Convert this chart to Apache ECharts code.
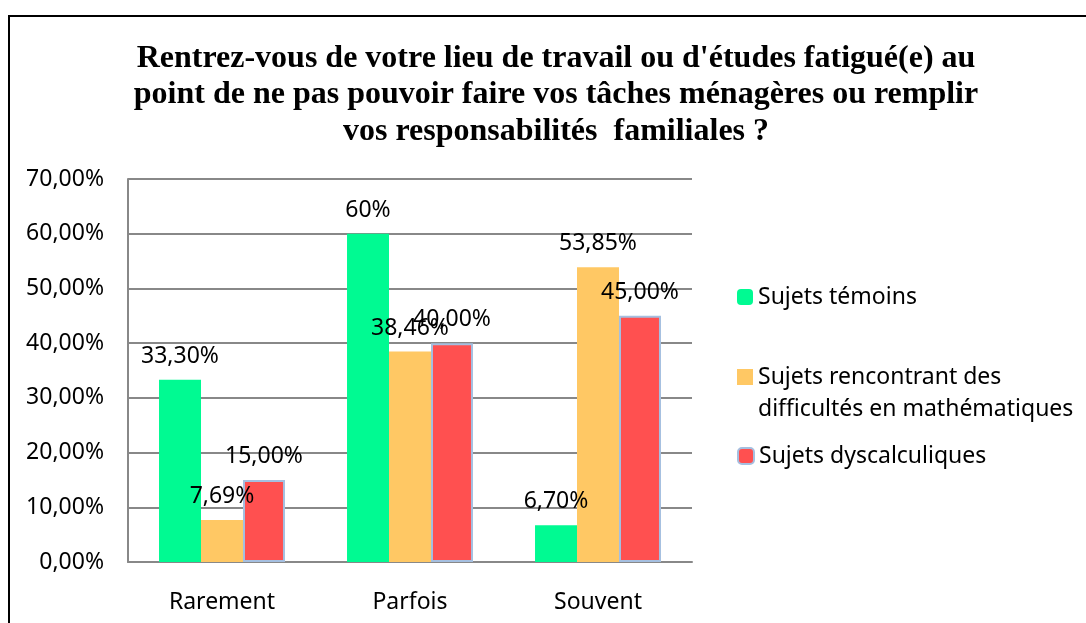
<!DOCTYPE html>
<html>
<head>
<meta charset="utf-8">
<script src="https://cdn.jsdelivr.net/npm/echarts@6/dist/echarts.min.js"></script>
<style>
  html, body { margin: 0; padding: 0; background: #fff; overflow: hidden; }
  #chart { width: 1086px; height: 623px; }
</style>
</head>
<body>
<div id="chart"></div>
<script>
// data
const categories = ['Rarement', 'Parfois', 'Souvent']
const seriesNames = [
  'Sujets témoins',
  'Sujets rencontrant des\ndifficultés en mathématiques',
  'Sujets dyscalculiques'
]
const temoins = [33.3, 60, 6.7]
const difficultes = [7.69, 38.46, 53.85]
const dyscalculiques = [15, 40, 45]
const temoinsLabels = ['33,30%', '60%', '6,70%']
const difficultesLabels = ['7,69%', '38,46%', '53,85%']
const dyscalculiquesLabels = ['15,00%', '40,00%', '45,00%']
const yTicks = ['0,00%', '10,00%', '20,00%', '30,00%', '40,00%', '50,00%', '60,00%', '70,00%']

const chart = echarts.init(document.getElementById('chart'))

const labelFont = 'Noto Sans'
const gridColor = '#888888'

function barSeries(name, values, labels, color, border) {
  return {
    name: name,
    type: 'bar',
    data: values,
    barGap: '0%',
    barCategoryGap: '33%',
    itemStyle: border
      ? { color: color, borderColor: '#a5bfe0', borderWidth: 2 }
      : { color: color },
    label: {
      show: true,
      position: 'top',
      distance: 12,
      color: '#000',
      fontFamily: labelFont,
      fontSize: 23,
      formatter: p => labels[p.dataIndex]
    }
  }
}

// one legend per series so each can sit where the reference puts it
function legendFor(name, top, extra) {
  return Object.assign({
    data: [name],
    orient: 'vertical',
    left: 732,
    top: top,
    itemWidth: 16,
    itemHeight: 16,
    itemGap: 0,
    textStyle: { fontFamily: labelFont, fontSize: 23, color: '#000', lineHeight: 32 }
  }, extra)
}

// square drawn at the top of a tall icon box, so it lines up with the first text line
const topSquare = 'path://M0 0H16V16H0Z M0 48'

const option = {
  backgroundColor: '#fff',
  animation: false,
  title: {
    text: "Rentrez-vous de votre lieu de travail ou d'études fatigué(e) au\npoint de ne pas pouvoir faire vos tâches ménagères ou remplir\nvos responsabilités  familiales ?",
    left: 551,
    top: 35,
    textAlign: 'center',
    textStyle: {
      fontFamily: 'Liberation Serif',
      fontWeight: 'bold',
      fontSize: 32,
      lineHeight: 36.5,
      color: '#000'
    }
  },
  legend: [
    legendFor(seriesNames[0], 276),
    legendFor(seriesNames[1], 356, { itemHeight: 48, icon: topSquare }),
    legendFor(seriesNames[2], 435)
  ],
  grid: { left: 128, right: 394, top: 179, bottom: 61 },
  xAxis: {
    type: 'category',
    data: categories,
    axisLine: { lineStyle: { color: gridColor, width: 2 } },
    axisTick: { show: false },
    axisLabel: { color: '#000', fontFamily: labelFont, fontSize: 23, margin: 29 }
  },
  yAxis: {
    type: 'value',
    min: 0,
    max: 70,
    interval: 10,
    axisLine: { show: true, lineStyle: { color: gridColor, width: 2 } },
    axisTick: { show: false },
    splitLine: { lineStyle: { color: gridColor, width: 2 } },
    axisLabel: {
      color: '#000',
      fontFamily: labelFont,
      fontSize: 23,
      margin: 24,
      formatter: v => yTicks[Math.round(v / 10)]
    }
  },
  graphic: [{
    type: 'polyline',
    shape: { points: [[9, 623], [9, 16], [1086, 16]] },
    style: { fill: 'none', stroke: '#000', lineWidth: 2 },
    silent: true
  }],
  series: [
    barSeries(seriesNames[0], temoins, temoinsLabels, '#00fa92', false),
    barSeries(seriesNames[1], difficultes, difficultesLabels, '#ffc864', false),
    barSeries(seriesNames[2], dyscalculiques, dyscalculiquesLabels, '#ff5050', true)
  ]
}

chart.setOption(option)
</script>
</body>
</html>
